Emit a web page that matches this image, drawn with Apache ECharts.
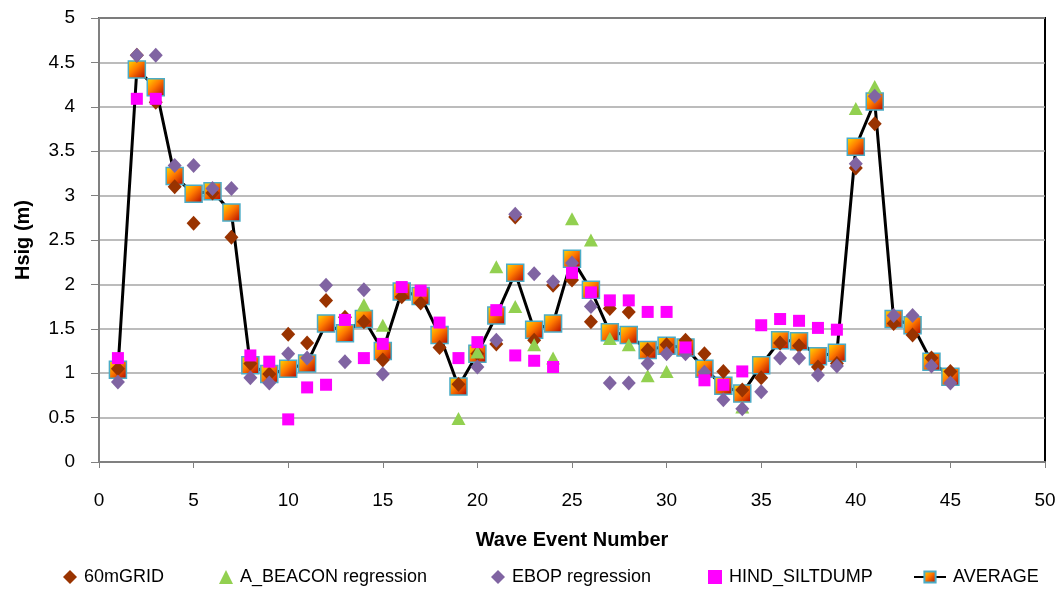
<!DOCTYPE html>
<html>
<head>
<meta charset="utf-8">
<script src="https://cdn.jsdelivr.net/npm/echarts@6/dist/echarts.min.js"></script>
<style>
html,body{margin:0;padding:0;background:#fff;}
#chart{width:1062px;height:590px;}
</style>
</head>
<body>
<div id="chart"></div>
<script>
var events = [1,2,3,4,5,6,7,8,9,10,11,12,13,14,15,16,17,18,19,20,21,22,23,24,25,26,27,28,29,30,31,32,33,34,35,36,37,38,39,40,41,42,43,44,45];
var grid60 = [1.05,4.58,4.05,3.10,2.69,3.03,2.53,1.11,0.99,1.44,1.34,1.82,1.63,1.58,1.15,1.86,1.79,1.29,0.875,1.22,1.33,2.76,1.37,1.99,2.05,1.58,1.73,1.69,1.26,1.32,1.37,1.22,1.02,0.81,0.95,1.34,1.31,1.07,1.11,3.31,3.81,1.56,1.43,1.17,1.02];
var aBeacon = [null,null,null,null,null,null,null,null,null,null,null,null,null,1.77,1.54,null,null,null,0.49,1.24,2.20,1.75,1.32,1.17,2.74,2.50,1.39,1.32,0.97,1.02,null,null,null,0.62,null,null,null,null,null,3.98,4.23,null,null,null,null];
var ebop = [0.90,4.58,4.58,3.34,3.34,3.08,3.08,0.95,0.89,1.22,1.17,1.99,1.13,1.94,0.99,null,null,null,null,1.07,1.37,2.79,2.12,2.03,2.24,1.75,0.89,0.89,1.11,1.22,1.22,1.01,0.70,0.60,0.79,1.17,1.17,0.98,1.08,3.36,4.12,1.65,1.65,1.08,0.89];
var hind = [1.17,4.09,4.09,null,null,null,null,1.20,1.13,0.48,0.84,0.87,1.60,1.17,1.33,1.97,1.93,1.57,1.17,1.35,1.71,1.20,1.14,1.07,2.13,1.91,1.82,1.82,1.69,1.69,1.29,0.92,0.87,1.02,1.54,1.61,1.59,1.51,1.49,null,null,null,null,null,null];
var average = [1.04,4.42,4.22,3.22,3.02,3.05,2.81,1.09,0.99,1.05,1.11,1.56,1.45,1.61,1.25,1.92,1.87,1.43,0.85,1.22,1.65,2.13,1.49,1.56,2.29,1.94,1.46,1.43,1.26,1.31,1.29,1.05,0.86,0.77,1.09,1.37,1.36,1.19,1.23,3.55,4.06,1.61,1.54,1.13,0.96];
var seriesNames = ['60mGRID','A_BEACON regression','EBOP regression','HIND_SILTDUMP','AVERAGE'];
var xTicks = {min:0, max:50, interval:5};
var yTicks = {min:0, max:5, interval:0.5};

function pairs(vals){
  var out = [];
  for (var i=0;i<events.length;i++){ if (vals[i]!==null && vals[i]!==undefined) out.push([events[i], vals[i]]); }
  return out;
}

var FONT = 'Liberation Sans';
var avgGrad = new echarts.graphic.LinearGradient(0,0,1,1,[
  {offset:0,color:'#FFE000'},{offset:0.45,color:'#FF7A00'},{offset:1,color:'#B00000'}
]);

var chart = echarts.init(document.getElementById('chart'), null, {renderer:'canvas'});
function legendAt(name, left, w){
  return {
    data:[name], left:left, top:567, itemWidth:w||14, itemHeight:14, itemGap:0, padding:0,
    textStyle:{fontFamily:FONT, fontSize:18, color:'#000', padding:[0,0,0,2], lineHeight:20},
    selectedMode:false
  };
}
var option = {
  animation:false,
  backgroundColor:'#fff',
  grid:{left:99, right:17, top:18, bottom:128, show:true, borderColor:'#000', borderWidth:2, backgroundColor:'transparent'},
  legend:[
    legendAt(seriesNames[0], 63),
    legendAt(seriesNames[1], 219),
    legendAt(seriesNames[2], 491),
    legendAt(seriesNames[3], 708),
    legendAt(seriesNames[4], 913, 32)
  ],
  xAxis:{
    type:'value', min:xTicks.min, max:xTicks.max, interval:xTicks.interval,
    name:'Wave Event Number', nameLocation:'middle', nameGap:68,
    nameTextStyle:{fontFamily:FONT, fontSize:20, fontWeight:'bold', color:'#000'},
    axisLine:{show:true, onZero:false, lineStyle:{color:'#808080', width:2}},
    axisTick:{show:true, inside:false, length:6, lineStyle:{color:'#808080'}},
    axisLabel:{fontFamily:FONT, fontSize:19, color:'#000', margin:29},
    splitLine:{show:false}
  },
  yAxis:{
    type:'value', min:yTicks.min, max:yTicks.max, interval:yTicks.interval,
    name:'Hsig (m)', nameLocation:'middle', nameGap:66,
    nameTextStyle:{fontFamily:FONT, fontSize:20, fontWeight:'bold', color:'#000'},
    axisLine:{show:true, lineStyle:{color:'#808080', width:2}},
    axisTick:{show:true, inside:false, length:8, lineStyle:{color:'#808080'}},
    axisLabel:{fontFamily:FONT, fontSize:19, color:'#000', margin:24},
    splitLine:{show:true, lineStyle:{color:'#A6A6A6', width:1.5}}
  },
  series:[
    {
      name:'AVERAGE', type:'line', data:pairs(average), z:2,
      symbol:'rect', symbolSize:17,
      lineStyle:{color:'#000', width:3},
      itemStyle:{color:avgGrad, borderColor:'#4BACC6', borderWidth:1.5, opacity:1},
      emphasis:{disabled:true}
    },
    {
      name:'60mGRID', type:'scatter', data:pairs(grid60), z:3,
      symbol:'diamond', symbolSize:[14,15],
      itemStyle:{color:'#993300', opacity:1}
    },
    {
      name:'A_BEACON regression', type:'scatter', data:pairs(aBeacon), z:3,
      symbol:'triangle', symbolSize:[14,13],
      itemStyle:{color:'#92D050', opacity:1}
    },
    {
      name:'EBOP regression', type:'scatter', data:pairs(ebop), z:3,
      symbol:'diamond', symbolSize:[14,15],
      itemStyle:{color:'#8064A2', opacity:1}
    },
    {
      name:'HIND_SILTDUMP', type:'scatter', data:pairs(hind), z:3,
      symbol:'rect', symbolSize:12,
      itemStyle:{color:'#FF00FF', opacity:1}
    }
  ]
};
chart.setOption(option);
</script>
</body>
</html>
